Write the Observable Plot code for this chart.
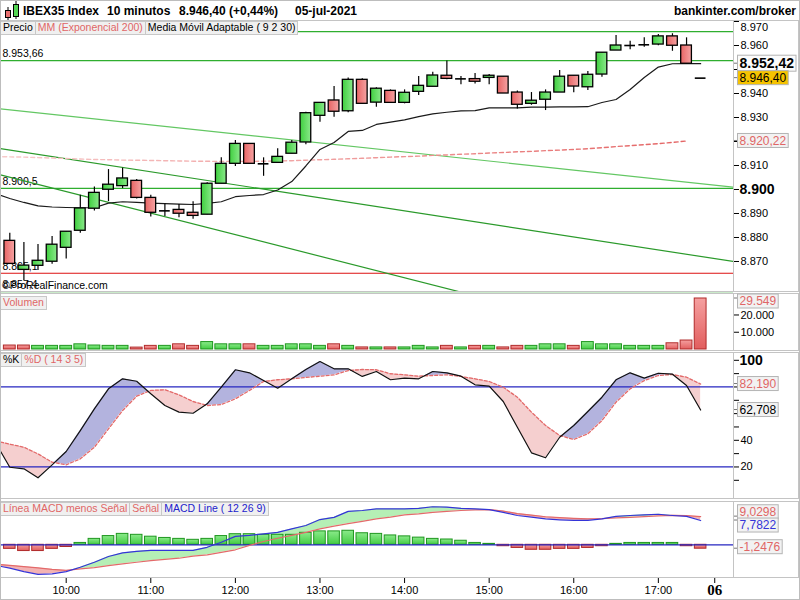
<!DOCTYPE html>
<html lang="es">
<head>
<meta charset="utf-8">
<script src="https://cdn.jsdelivr.net/npm/d3@7"></script>
<script src="https://cdn.jsdelivr.net/npm/@observablehq/plot@0.6"></script>
<style>
html,body{margin:0;padding:0;background:#fff;}
#root{position:relative;width:800px;height:600px;overflow:hidden;background:#fff;font-family:"Liberation Sans",Arial,sans-serif;}
.hdr{position:absolute;top:4px;font-weight:bold;font-size:12px;line-height:14px;color:#000;white-space:nowrap;}
.leg{position:absolute;left:0;display:flex;font-size:10.5px;line-height:11px;white-space:nowrap;z-index:2;}
.leg span{background:#f0f0f0;border:1px solid #c8c8c8;padding:0 2px 1px 2px;margin-right:-1px;}
.wm{position:absolute;left:2px;font-size:10.5px;color:#000;white-space:nowrap;}
#border{position:absolute;left:0;top:0;width:800px;height:600px;box-sizing:border-box;border:1px solid #bdbdbd;pointer-events:none;z-index:3;}
</style>
</head>
<body>
<div id="root">
  <svg width="20" height="20" style="position:absolute;left:2px;top:1px">
    <line x1="6" y1="6" x2="6" y2="19" stroke="#000"/>
    <rect x="3.5" y="9.5" width="5" height="7" fill="#e87070" stroke="#000"/>
    <line x1="14" y1="0" x2="14" y2="18" stroke="#000"/>
    <rect x="11.5" y="3.5" width="5" height="12" fill="#55d655" stroke="#000"/>
  </svg>
  <div class="hdr" style="left:23px">IBEX35 Index</div>
  <div class="hdr" style="left:107px">10 minutos</div>
  <div class="hdr" id="hdrPrice" style="left:179px"></div>
  <div class="hdr" style="left:295px">05-jul-2021</div>
  <div class="hdr" style="right:4px">bankinter.com/broker</div>
  <div class="leg" style="top:21px"><span>Precio</span><span style="color:#e06666">MM (Exponencial 200)</span><span>Media Móvil Adaptable ( 9 2 30)</span></div>
  <div class="leg" style="top:296px"><span style="color:#e06666">Volumen</span></div>
  <div class="leg" style="top:353px"><span>%K</span><span style="color:#e06666">%D ( 14 3 5)</span></div>
  <div class="leg" style="top:502px"><span style="color:#e06666">Línea MACD menos Señal</span><span style="color:#e06666">Señal</span><span style="color:#2222cc">MACD Line ( 12 26 9)</span></div>
  <div class="wm" style="top:279px">©ProRealFinance.com</div>
  <div id="border"></div>
</div>
<script>
// ---------------- DATA ----------------
// bar index 0..49 = 9:20 .. 17:30 (10-minute bars); index -1 is the bar before the window (lines only)
const openP  = [8878.6,8866.5,8868.2,8869.9,8875.7,8882.8,8892.0,8899.9,8901.4,8903.6,8896.5,8891.1,8891.5,8890.3,8889.5,8902.4,8910.7,8919.0,8910.7,8911.1,8914.9,8919.6,8930.7,8937.1,8932.6,8945.7,8936.2,8941.1,8936.1,8940.7,8942.8,8947.4,8946.1,8946.0,8946.5,8947.0,8940.4,8935.7,8937.4,8940.4,8947.4,8942.6,8947.9,8957.9,8960.0,8960.3,8960.4,8963.8,8960.0,8946.4];
const highP  = [8881.8,8877.9,8877.1,8880.4,8882.4,8897.6,8901.0,8908.3,8908.9,8904.2,8897.6,8894.0,8893.8,8894.9,8902.8,8913.2,8920.4,8919.0,8913.2,8917.0,8920.4,8932.2,8936.1,8942.9,8946.5,8946.1,8942.4,8941.5,8941.5,8947.1,8948.9,8953.5,8947.1,8948.3,8947.9,8947.0,8941.0,8940.4,8941.5,8949.6,8947.4,8949.2,8957.0,8964.2,8961.8,8963.2,8964.6,8964.9,8963.2,8946.4];
const lowP   = [8869.0,8862.1,8866.2,8868.8,8871.0,8881.8,8891.0,8895.0,8900.4,8896.0,8888.5,8888.8,8888.2,8887.6,8889.5,8902.4,8909.6,8910.7,8905.5,8910.8,8914.9,8918.6,8928.0,8930.1,8932.0,8935.7,8934.3,8936.1,8935.7,8939.2,8942.8,8945.7,8943.6,8944.0,8943.6,8940.0,8933.5,8935.1,8932.9,8940.4,8940.3,8941.3,8946.8,8957.9,8958.2,8959.3,8959.9,8957.6,8952.4,8946.4];
const closeP = [8869.0,8868.3,8870.3,8877.0,8882.4,8892.1,8898.6,8902.0,8904.6,8896.5,8890.3,8891.1,8889.9,8889.0,8902.4,8910.7,8919.0,8910.7,8910.7,8913.6,8919.5,8931.8,8936.1,8932.4,8945.7,8935.7,8942.0,8936.1,8940.3,8943.2,8947.5,8946.1,8946.1,8944.9,8947.4,8940.0,8935.3,8937.0,8940.4,8947.0,8942.9,8947.8,8957.0,8960.0,8960.0,8960.3,8963.8,8959.9,8952.4,8946.4];
// Media Móvil Adaptable (9 2 30), index -1..49
const ama = [8898.3,8896.25,8894.6,8893.2,8892.7,8892.5,8892.4,8892.4,8894.3,8894.9,8894.6,8894.3,8894.1,8893.9,8893.75,8894.2,8894.9,8897.0,8897.5,8897.9,8899.8,8903.3,8909.8,8916.7,8919.6,8924.2,8924.6,8927.1,8928.1,8929.0,8930.4,8931.5,8932.2,8932.8,8932.9,8934.0,8934.0,8934.0,8934.3,8934.3,8934.4,8934.4,8934.5,8936.25,8937.5,8941.7,8946.7,8951.0,8952.4,8952.42,8952.42];
// MM Exponencial 200, index -1..48
const ema200 = [8913.7,8913.6,8913.5,8913.3,8913.1,8912.9,8912.7,8912.5,8912.4,8912.25,8912.2,8912.1,8912.0,8911.9,8911.8,8911.75,8911.7,8911.7,8911.7,8911.8,8911.9,8912.0,8912.2,8912.4,8912.6,8912.8,8913.0,8913.25,8913.5,8913.7,8913.9,8914.2,8914.4,8914.7,8914.9,8915.2,8915.4,8915.7,8915.9,8916.2,8916.4,8916.7,8917.0,8917.4,8917.9,8918.25,8918.7,8919.1,8919.6,8920.22];
// horizontal support / resistance levels (the first one has its label hidden under the legend)
const levels = [8965.8, 8953.66, 8900.5, 8865.1, 8857.4];
const levelColors = ["#2fae2f", "#2fae2f", "#2fae2f", "#dd1111", "#2fae2f"];
const labeledLevels = [8953.66, 8900.5, 8865.1, 8857.4];
// trend lines: price at the left and right edge of the window
const trendStart = [8933.6, 8917.0, 8906.1];
const trendEnd   = [8901.0, 8870.0, 8828.3];
const trendColors = ["#63c763", "#2b9a2b", "#2b9a2b"];
// volume, index 0..49
const volume = [2300,2300,2100,2100,2100,3000,2300,2100,2100,1100,2100,2100,3000,2100,4300,3000,3000,3000,2100,2100,3000,3000,2100,3000,2100,1200,1200,1200,1200,2100,1200,2100,1200,2100,2100,1200,2100,2100,3000,3000,2100,4300,3000,3000,2100,2100,2100,3600,5200,29549];
// Stochastic %K / %D (14 3 5), index -1..49
const stochK = [38.0,19.8,18.6,11.9,21.6,31.6,47.3,63.6,78.6,86.1,84.3,74.9,66.1,61.1,60.3,67.4,79.8,92.9,90.6,84.8,79.1,86.1,93.1,99.1,93.6,93.6,87.9,91.6,85.4,86.6,86.1,91.6,90.6,88.1,81.6,80.6,69.1,49.8,30.6,26.9,42.3,51.1,61.6,72.3,85.4,90.6,86.6,90.3,89.6,81.1,62.708];
const stochD = [39.5,37.1,34.8,29.8,23.6,21.6,26.1,34.8,48.6,62.3,73.1,77.4,77.9,74.1,69.1,66.1,66.8,71.1,77.4,84.1,85.4,86.1,87.1,88.1,89.1,92.3,93.1,92.9,89.9,89.1,88.1,88.6,89.1,87.9,86.1,84.1,79.8,72.3,61.1,51.1,43.6,40.6,44.9,54.8,68.6,78.6,84.8,88.6,89.4,87.3,82.19];
const stochLevels = [80, 20];
// MACD (12 26 9), index -1..49 ; histogram index 0..49
const macdLine = [-6.6,-7.5,-8.6,-9.5,-9.3,-8.6,-7.2,-5.6,-3.75,-2.6,-2.1,-1.8,-1.8,-1.8,-1.8,-0.8,0.8,2.7,3.0,3.5,4.0,5.1,6.2,8.1,8.8,10.7,11.0,11.5,11.5,11.5,11.7,12.2,12.05,11.7,11.5,11.3,10.4,9.4,8.85,8.3,8.0,7.8,7.8,8.3,9.1,9.4,9.6,9.8,9.4,9.1,7.7822];
const macdSignal = [-6.2,-6.6,-7.0,-7.4,-7.9,-8.2,-7.7,-7.3,-6.7,-6.1,-5.6,-5.1,-4.7,-4.3,-3.65,-3.2,-2.4,-1.6,-0.2,1.05,2.1,3.0,4.0,5.1,6.0,6.8,7.5,8.3,8.85,9.6,9.9,10.4,10.7,11.0,11.2,11.3,10.8,10.0,9.5,9.0,8.7,8.45,8.3,8.4,8.6,8.8,9.05,9.3,9.45,9.35,9.0298];
const macdHist = [-1.3,-2.0,-2.0,-1.3,-0.7,0.6,1.9,2.8,3.5,3.2,2.6,2.2,1.9,1.6,1.9,2.8,3.4,3.4,3.2,3.2,3.2,3.85,4.3,4.3,4.5,3.7,3.5,3.0,2.7,2.3,1.9,1.7,1.3,0.6,0.3,-0.45,-1.0,-1.6,-1.6,-1.3,-1.3,-1.0,-0.45,0.3,0.6,0.6,0.6,0.6,-0.45,-1.2476];
// time axis
const hourTicks = [4,10,16,22,28,34,40,46];
const hourLabels = ["10:00","11:00","12:00","13:00","14:00","15:00","16:00","17:00"];
const dayTick = [50];
const dayLabel = ["06"];

// ---------------- SETUP ----------------
const root = document.getElementById("root");
const loc = d3.formatLocale({decimal: ",", thousands: ".", grouping: [3], currency: ["", "€"], minus: "-"});
const fInt = loc.format(",.0f");
const fLvl = loc.format(",.2~f");
const f2 = loc.format(",.2f");
const f3 = loc.format(",.3f");
const f4 = loc.format(",.4f");
document.getElementById("hdrPrice").textContent = f2(closeP[closeP.length - 1]) + " (+0,44%)";

const barIdx = d3.range(0, 50);
const lineIdx = d3.range(-1, 50);
const emaIdx = d3.range(-1, 49);
const X_DOMAIN = [-0.66, 51.33];
const HALF = 0.38;
const baseStyle = {fontFamily: '"Liberation Sans", Arial, sans-serif', fontSize: "11px", color: "#000", background: "transparent", overflow: "visible"};
const xHidden = {type: "linear", domain: X_DOMAIN, axis: null};
const last = a => a[a.length - 1];

function place(svg, top) {
  svg.style.position = "absolute";
  svg.style.left = "0px";
  svg.style.top = top + "px";
  root.insertBefore(svg, document.getElementById("border"));
}
function frame(svg, plotH) {
  const s = d3.select(svg);
  s.append("rect").attr("x", 0.5).attr("y", 0.5).attr("width", 798).attr("height", plotH - 1)
    .attr("fill", "none").attr("stroke", "#c4c4c4");
  s.append("line").attr("x1", 733.5).attr("x2", 733.5).attr("y1", 0).attr("y2", plotH).attr("stroke", "#c4c4c4");
}
function yPix(svg, v) {
  const sc = svg.scale("y");
  if (sc && typeof sc.apply === "function") return sc.apply(v);
  return d3.scaleLinear(sc.domain, sc.range)(v);
}
function addBox(svg, b) {
  const s = d3.select(svg);
  const y0 = yPix(svg, b.value);
  const yc = y0 + (b.dy || 0);
  s.append("line").attr("x1", 734).attr("x2", 738).attr("y1", y0).attr("y2", y0).attr("stroke", "#777");
  const h = b.size + 2;
  const g = s.append("g").attr("transform", `translate(737.5,${yc})`);
  const r = g.append("rect").attr("y", -h / 2).attr("height", h).attr("fill", b.bg).attr("stroke", "#b4b4b4");
  const t = g.append("text").attr("x", 2).attr("dy", "0.36em").attr("text-anchor", "start").attr("fill", b.color)
    .attr("font-size", b.size).attr("font-weight", b.weight || "normal").text(b.text);
  r.attr("width", t.node().getComputedTextLength() + 4);
}
function crossings(xs, a, b) {
  const out = [];
  for (let k = 0; k < xs.length; k++) {
    out.push({x: xs[k], a: a[k], b: b[k]});
    if (k < xs.length - 1) {
      const d0 = a[k] - b[k], d1 = a[k + 1] - b[k + 1];
      if (d0 * d1 < 0) {
        const t = d0 / (d0 - d1);
        const v = a[k] + t * (a[k + 1] - a[k]);
        out.push({x: xs[k] + t * (xs[k + 1] - xs[k]), a: v, b: v});
      }
    }
  }
  return out;
}

// ---------------- PRICE PANEL ----------------
const candles = barIdx.map(i => ({i, o: openP[i], h: highP[i], l: lowP[i], c: closeP[i]}));
const shownPriceTicks = [8870, 8880, 8890, 8910, 8930, 8940, 8960];
const pricePlot = Plot.plot({
  width: 800, height: 272, marginLeft: 0, marginRight: 67, marginTop: 0, marginBottom: 0,
  style: baseStyle,
  x: xHidden,
  y: {domain: [8857.08, 8970.42], axis: "right", ticks: d3.range(8870, 8971, 10),
      tickFormat: d => shownPriceTicks.includes(d) ? fInt(d) : "", tickSize: 5, tickPadding: 2, label: null},
  color: {type: "identity"},
  marks: [
    Plot.ruleY(levels, {y: d => d, stroke: (d, k) => levelColors[k], strokeWidth: 1.2}),
    Plot.text(labeledLevels, {y: d => d, text: d => fLvl(d), frameAnchor: "left", textAnchor: "start", dx: 2, dy: -7, fontSize: 10.5, fill: "#000"}),
    Plot.link(d3.range(trendStart.length), {x1: () => X_DOMAIN[0], y1: k => trendStart[k], x2: () => X_DOMAIN[1], y2: k => trendEnd[k], stroke: k => trendColors[k], strokeWidth: 1.2, clip: true}),
    Plot.line(emaIdx, {x: d => d, y: (d, k) => ema200[k], stroke: "url(#emaGrad)", strokeWidth: 1.4, strokeDasharray: "4,3", clip: true}),
    Plot.line(lineIdx, {x: d => d, y: (d, k) => ama[k], stroke: "#1a1a1a", strokeWidth: 1.2, clip: true}),
    Plot.ruleX(candles, {x: "i", y1: "l", y2: "h", stroke: "#000", strokeWidth: 1.2}),
    Plot.rect(candles.filter(d => d.c > d.o), {x1: d => d.i - HALF, x2: d => d.i + HALF, y1: "o", y2: "c", fill: "url(#gUp)", stroke: "#000", strokeWidth: 1.3}),
    Plot.rect(candles.filter(d => d.c < d.o), {x1: d => d.i - HALF, x2: d => d.i + HALF, y1: "o", y2: "c", fill: "url(#gDn)", stroke: "#000", strokeWidth: 1.3}),
    Plot.ruleY(candles.filter(d => d.c === d.o), {y: "o", x1: d => d.i - HALF, x2: d => d.i + HALF, stroke: "#000", strokeWidth: 1.6}),
    Plot.text([8900], {y: d => d, text: d => fInt(d), frameAnchor: "right", textAnchor: "start", dx: 6, fontWeight: "bold", fontSize: 14}),
    Plot.text([8970], {y: d => d, text: d => fInt(d), frameAnchor: "right", textAnchor: "start", dx: 7, dy: 6})
  ]
});
d3.select(pricePlot).insert("defs", ":first-child").html(`
  <linearGradient id="emaGrad" gradientUnits="userSpaceOnUse" x1="0" x2="733" y1="0" y2="0">
    <stop offset="0" stop-color="#f7c9c9"/><stop offset="0.45" stop-color="#f0a0a0"/><stop offset="1" stop-color="#e25c5c"/></linearGradient>
  <linearGradient id="gUp" x1="0" x2="1" y1="0" y2="0"><stop offset="0" stop-color="#3fcf3f"/><stop offset="1" stop-color="#8ae98a"/></linearGradient>
  <linearGradient id="gDn" x1="0" x2="1" y1="0" y2="0"><stop offset="0" stop-color="#e86464"/><stop offset="1" stop-color="#f5a3a3"/></linearGradient>
  <linearGradient id="vUp" x1="0" x2="0" y1="0" y2="1"><stop offset="0" stop-color="#8aea8a"/><stop offset="1" stop-color="#44cc44"/></linearGradient>
  <linearGradient id="vDn" x1="0" x2="0" y1="0" y2="1"><stop offset="0" stop-color="#f5a0a0"/><stop offset="1" stop-color="#e25e5e"/></linearGradient>`);
place(pricePlot, 20);
frame(pricePlot, 272);
addBox(pricePlot, {value: last(ama), text: f2(last(ama)), color: "#000", bg: "#fbfbfb", size: 14, weight: "bold"});
addBox(pricePlot, {value: last(closeP), text: f2(last(closeP)), color: "#000", bg: "#f6c300", size: 12});
addBox(pricePlot, {value: last(ema200), text: f2(last(ema200)), color: "#e06666", bg: "#f2f2f2", size: 12});

// ---------------- VOLUME PANEL ----------------
const vols = barIdx.map(i => ({i, v: volume[i], up: i === 0 ? closeP[0] >= openP[0] : closeP[i] >= closeP[i - 1]}));
const volPlot = Plot.plot({
  width: 800, height: 58, marginLeft: 0, marginRight: 67, marginTop: 0, marginBottom: 0,
  style: baseStyle,
  x: xHidden,
  y: {domain: [-1159, 32446], axis: "right", ticks: [10000, 20000], tickFormat: d => fInt(d), tickSize: 5, tickPadding: 2, label: null},
  marks: [
    Plot.rect(vols.filter(d => d.up), {x1: d => d.i - 0.42, x2: d => d.i + 0.42, y1: 0, y2: "v", fill: "url(#vUp)", stroke: "#1f961f", strokeWidth: 1}),
    Plot.rect(vols.filter(d => !d.up), {x1: d => d.i - 0.42, x2: d => d.i + 0.42, y1: 0, y2: "v", fill: "url(#vDn)", stroke: "#b02a2a", strokeWidth: 1})
  ]
});
place(volPlot, 293);
frame(volPlot, 58);
addBox(volPlot, {value: last(volume), text: fInt(last(volume)), color: "#e06666", bg: "#f2f2f2", size: 12, dy: 3});

// ---------------- STOCHASTIC PANEL ----------------
const kd = crossings(lineIdx, stochK, stochD);
const stochPlot = Plot.plot({
  width: 800, height: 147, marginLeft: 0, marginRight: 67, marginTop: 0, marginBottom: 0,
  style: baseStyle,
  x: xHidden,
  y: {domain: [-4.4, 105.85], axis: "right", ticks: d3.range(10, 101, 10), tickFormat: d => (d === 40 || d === 20) ? String(d) : "", tickSize: 5, tickPadding: 2, label: null},
  marks: [
    Plot.areaY(kd, {x: "x", y1: "b", y2: d => Math.max(d.a, d.b), fill: "#b3b3de", clip: true}),
    Plot.areaY(kd, {x: "x", y1: "a", y2: d => Math.max(d.a, d.b), fill: "#f5cfcf", clip: true}),
    Plot.ruleY(stochLevels, {y: d => d, stroke: "#2626c0", strokeWidth: 1.3}),
    Plot.line(lineIdx, {x: d => d, y: (d, k) => stochD[k], stroke: "#e36a6a", strokeWidth: 1.3, strokeDasharray: "3,2", clip: true}),
    Plot.line(lineIdx, {x: d => d, y: (d, k) => stochK[k], stroke: "#111", strokeWidth: 1.2, clip: true}),
    Plot.text([100], {y: d => d, text: d => String(d), frameAnchor: "right", textAnchor: "start", dx: 6, fontWeight: "bold", fontSize: 14})
  ]
});
place(stochPlot, 352);
frame(stochPlot, 147);
addBox(stochPlot, {value: last(stochD), text: f3(last(stochD)), color: "#e06666", bg: "#f2f2f2", size: 12});
addBox(stochPlot, {value: last(stochK), text: f3(last(stochK)), color: "#000", bg: "#f2f2f2", size: 12});

// ---------------- MACD PANEL ----------------
const ms = crossings(lineIdx, macdLine, macdSignal);
const hist = barIdx.map(i => ({i, v: macdHist[i]}));
const macdPlot = Plot.plot({
  width: 800, height: 99, marginLeft: 0, marginRight: 67, marginTop: 0, marginBottom: 22,
  style: baseStyle,
  x: {type: "linear", domain: X_DOMAIN, axis: "bottom", ticks: [...hourTicks, ...dayTick],
      tickFormat: d => { const k = hourTicks.indexOf(d); return k >= 0 ? hourLabels[k] : ""; },
      tickSize: 5, tickPadding: 3, label: null},
  y: {domain: [-10.8, 13.88], axis: null},
  marks: [
    Plot.areaY(ms, {x: "x", y1: "b", y2: d => Math.max(d.a, d.b), fill: "#b5efb5", clip: true}),
    Plot.areaY(ms, {x: "x", y1: "a", y2: d => Math.max(d.a, d.b), fill: "#f3b3b3", clip: true}),
    Plot.rect(hist.filter(d => d.v >= 0), {x1: d => d.i - 0.41, x2: d => d.i + 0.41, y1: 0, y2: "v", fill: "url(#vUp)", stroke: "#1f961f", strokeWidth: 1}),
    Plot.rect(hist.filter(d => d.v < 0), {x1: d => d.i - 0.41, x2: d => d.i + 0.41, y1: 0, y2: "v", fill: "url(#vDn)", stroke: "#b02a2a", strokeWidth: 1}),
    Plot.ruleY([0], {stroke: "#2626c0", strokeWidth: 1.3}),
    Plot.line(lineIdx, {x: d => d, y: (d, k) => macdSignal[k], stroke: "#e36a6a", strokeWidth: 1.2, clip: true}),
    Plot.line(lineIdx, {x: d => d, y: (d, k) => macdLine[k], stroke: "#3434d8", strokeWidth: 1.2, clip: true}),
    Plot.text(dayTick, {x: d => d, text: (d, k) => dayLabel[k], frameAnchor: "bottom", lineAnchor: "middle", dy: 12, fontWeight: "bold", fontFamily: '"Liberation Serif", "DejaVu Serif", serif', fontSize: 15})
  ]
});
place(macdPlot, 501);
frame(macdPlot, 77);
addBox(macdPlot, {value: last(macdSignal), text: f4(last(macdSignal)), color: "#e06666", bg: "#f2f2f2", size: 12, dy: -4.4});
addBox(macdPlot, {value: last(macdLine), text: f4(last(macdLine)), color: "#3434d8", bg: "#f2f2f2", size: 12, dy: 5});
addBox(macdPlot, {value: last(macdHist), text: f4(last(macdHist)), color: "#e06666", bg: "#f2f2f2", size: 12, dy: -1.5});
</script>
</body>
</html>
